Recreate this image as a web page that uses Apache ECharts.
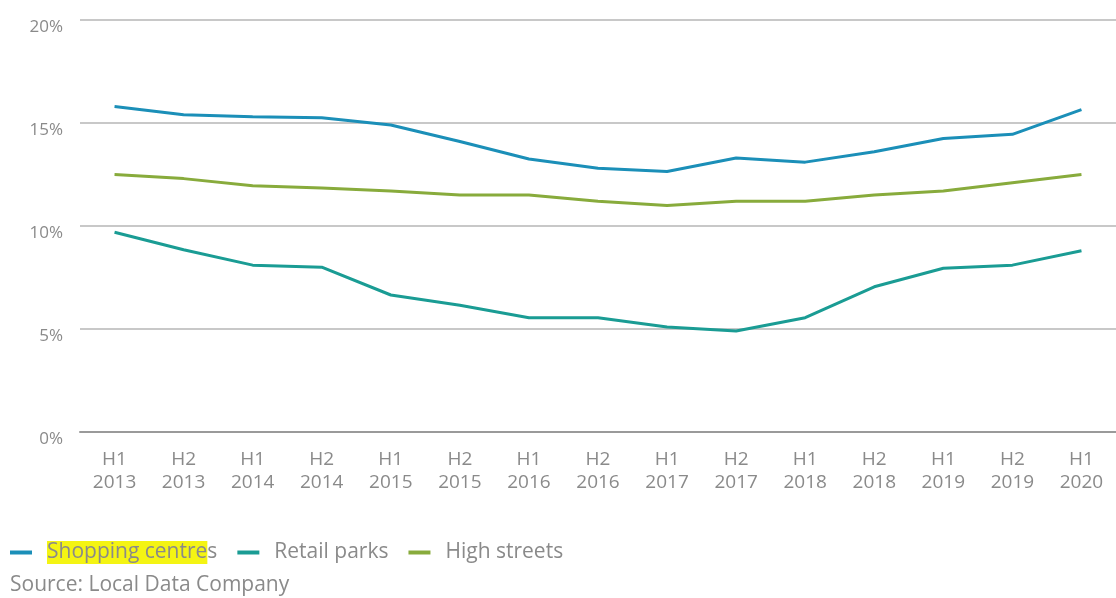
<!DOCTYPE html>
<html>
<head>
<meta charset="utf-8">
<script src="https://cdn.jsdelivr.net/npm/echarts@6/dist/echarts.min.js"></script>
<style>
html,body{margin:0;padding:0;background:#fff;}
#chart{width:1116px;height:598px;}
</style>
</head>
<body>
<div id="chart"></div>
<script>
var categories = ['H1\n2013','H2\n2013','H1\n2014','H2\n2014','H1\n2015','H2\n2015','H1\n2016','H2\n2016','H1\n2017','H2\n2017','H1\n2018','H2\n2018','H1\n2019','H2\n2019','H1\n2020'];
var shoppingCentres = [15.8, 15.4, 15.3, 15.25, 14.9, 14.1, 13.25, 12.8, 12.65, 13.3, 13.1, 13.6, 14.25, 14.45, 15.65];
var retailParks = [9.7, 8.85, 8.1, 8.0, 6.65, 6.15, 5.55, 5.55, 5.1, 4.9, 5.55, 7.05, 7.95, 8.1, 8.8];
var highStreets = [12.5, 12.3, 11.95, 11.85, 11.7, 11.5, 11.5, 11.2, 11.0, 11.2, 11.2, 11.5, 11.7, 12.1, 12.5];
var yTicks = [0, 5, 10, 15, 20];

var FONT = '"Open Sans", "Noto Sans", sans-serif';
var TXT = '#8a8a8a';
var chart = echarts.init(document.getElementById('chart'), null, {renderer: 'canvas'});
function mkSeries(name, data, color) {
  return {
    name: name, type: 'line', data: data, symbol: 'none',
    lineStyle: {width: 3, color: color}, itemStyle: {color: color},
    emphasis: {disabled: true}
  };
}
chart.setOption({
  animation: false,
  grid: {left: 80, right: 0, top: 20, bottom: 166},
  xAxis: {
    type: 'category', data: categories, boundaryGap: true,
    axisLine: {show: true, lineStyle: {color: '#9a9a9a', width: 2}},
    axisTick: {show: false},
    axisLabel: {color: TXT, fontFamily: FONT, fontSize: 19, lineHeight: 23, margin: 16, interval: 0}
  },
  yAxis: {
    type: 'value', min: yTicks[0], max: yTicks[yTicks.length - 1], interval: 5,
    axisLine: {show: false}, axisTick: {show: false},
    splitLine: {lineStyle: {color: '#c8c8c8', width: 2}},
    axisLabel: {color: TXT, fontFamily: FONT, fontSize: 17, lineHeight: 14, margin: 17, verticalAlign: 'top',
      formatter: function (v) { return v + '%'; }}
  },
  legend: {
    left: 10, top: 541, itemWidth: 22, itemHeight: 4, itemGap: 20,
    icon: 'rect', padding: 0,
    textStyle: {color: TXT, fontFamily: FONT, fontSize: 21,
      rich: {
        s: {width: 10},
        hl: {backgroundColor: '#f4f413', color: TXT, fontFamily: FONT, fontSize: 21, padding: [1, 0, 1, 0]}
      }
    },
    formatter: function (name) {
      if (name === 'Shopping centres') return '{s|}{hl|Shopping centre}s';
      return '{s|}' + name;
    },
    data: ['Shopping centres', 'Retail parks', 'High streets']
  },
  graphic: [{
    type: 'text', left: 10, top: 575,
    style: {text: 'Source: Local Data Company', fill: TXT, font: '21px ' + FONT}
  }],
  series: [
    mkSeries('Shopping centres', shoppingCentres, '#1b8fb8'),
    mkSeries('Retail parks', retailParks, '#1a9c94'),
    mkSeries('High streets', highStreets, '#88ab3c')
  ]
});
</script>
</body>
</html>
